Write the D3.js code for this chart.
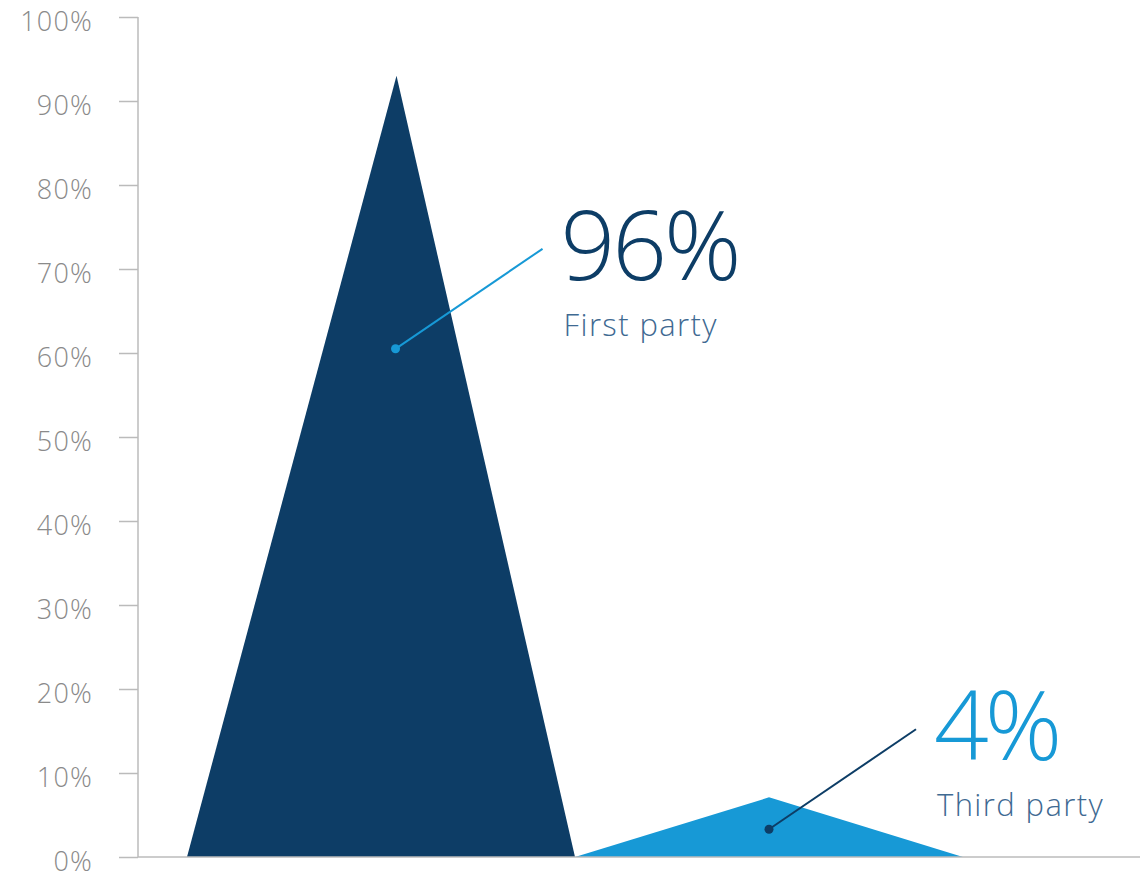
<!DOCTYPE html>
<html>
<head>
<meta charset="utf-8">
<script src="https://cdnjs.cloudflare.com/ajax/libs/d3/7.8.5/d3.min.js"></script>
<style>
  body { margin: 0; background: #fff; }
  svg text { font-family: "Open Sans", "Lato", sans-serif; font-weight: 300; }
</style>
</head>
<body>
<div id="chart"></div>
<script>
// data
const categories = ["First party", "Third party"]
const peaks = [93, 7.1]          // height of each triangle's apex (%)
const peakPos = [0.54, 0.5]      // apex position inside its band
const shareLabels = ["96%", "4%"]
const dotValues = [60.5, 3.3]    // where the callout dot sits (%)
const yTicks = [0, 10, 20, 30, 40, 50, 60, 70, 80, 90, 100]

const width = 1145, height = 878
const dark = "#0d3d66", light = "#1799d6"
const fills = [dark, light]
const lineColors = [light, dark]
const bigColors = [dark, light]

const svg = d3.select("#chart").append("svg")
    .attr("width", width)
    .attr("height", height)

const y = d3.scaleLinear().domain([0, 100]).range([857, 17])
const x = d3.scaleBand().domain(categories).range([187, 963]).padding(0)

// triangles
svg.selectAll(".tri")
    .data(categories)
    .enter()
    .append("path")
    .attr("class", "tri")
    .attr("fill", (d, i) => fills[i])
    .attr("d", (d, i) => {
        const x0 = x(d), x1 = x(d) + x.bandwidth()
        const xp = x0 + x.bandwidth() * peakPos[i]
        return d3.line()([[x0, y(0)], [xp, y(peaks[i])], [x1, y(0)]]) + "Z"
    })

// y axis
const axis = svg.append("g")
    .attr("transform", "translate(138,0)")
    .call(d3.axisLeft(y).tickValues(yTicks).tickSize(19).tickPadding(26)
        .tickFormat(d => d + "%"))
axis.select(".domain").attr("stroke", "#bbb").attr("stroke-width", 1.5)
    .attr("d", "M0," + y(100) + "V" + y(0))
axis.selectAll(".tick line").attr("stroke", "#bbb").attr("stroke-width", 1.5)
axis.selectAll(".tick text")
    .attr("fill", "#8a8a8a")
    .attr("font-size", 27)
    .attr("letter-spacing", 1.2)
    .attr("font-family", "'Open Sans', sans-serif")
    .attr("font-weight", 300)
    .attr("dy", "0.5em")

// baseline
svg.append("line")
    .attr("x1", 138).attr("x2", 1140)
    .attr("y1", y(0)).attr("y2", y(0))
    .attr("stroke", "#bbb").attr("stroke-width", 1.5)

// callouts
const calls = svg.selectAll(".call")
    .data(categories)
    .enter()
    .append("g")
    .attr("class", "call")

calls.each(function (d, i) {
    const g = d3.select(this)
    const cx = x(d) + x.bandwidth() * peakPos[i] - (i === 0 ? 1 : 0)
    const cy = y(dotValues[i])
    const ex = cx + 147, ey = cy - 100
    g.append("line")
        .attr("x1", cx).attr("y1", cy)
        .attr("x2", ex).attr("y2", ey)
        .attr("stroke", lineColors[i]).attr("stroke-width", 2)
    g.append("circle")
        .attr("cx", cx).attr("cy", cy).attr("r", 4.5)
        .attr("fill", lineColors[i])
    g.append("text")
        .attr("x", ex + 18).attr("y", ey + 31)
        .attr("fill", bigColors[i])
        .attr("font-size", 96)
        .attr("letter-spacing", i === 0 ? -3 : -4)
        .attr("font-weight", 300)
        .text(shareLabels[i])
    g.append("text")
        .attr("x", ex + 21).attr("y", ey + 87)
        .attr("fill", "#3f6a92")
        .attr("font-size", 31)
        .attr("letter-spacing", 1.4)
        .attr("font-weight", 300)
        .text(d)
})
</script>
</body>
</html>
